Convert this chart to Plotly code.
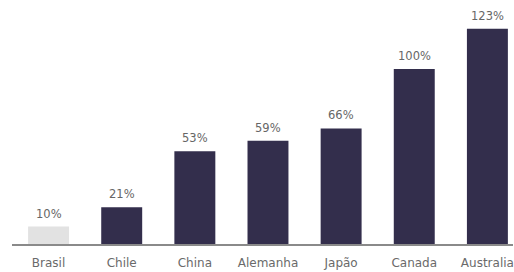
import plotly.graph_objects as go

categories = ["Brasil", "Chile", "China", "Alemanha", "Japão", "Canada", "Australia"]
values = [10, 21, 53, 59, 66, 100, 123]
labels = ["10%", "21%", "53%", "59%", "66%", "100%", "123%"]
colors = ["#e2e2e2"] + ["#332e4c"] * 6

fig = go.Figure()
fig.add_trace(go.Bar(
    x=categories, y=values, marker=dict(color=colors, line=dict(width=0)),
    width=0.56, showlegend=False,
))
for c, v, t in zip(categories, values, labels):
    fig.add_annotation(x=c, y=v, text=t, showarrow=False, yanchor="bottom", yshift=4,
                       font=dict(family="DejaVu Sans", size=11.5, color="#666666"))

fig.update_layout(
    width=514, height=272,
    margin=dict(l=12, r=1, t=0, b=28),
    paper_bgcolor="white", plot_bgcolor="white",
    font=dict(family="DejaVu Sans", size=12, color="#6a6a6a"),
    xaxis=dict(range=[-0.5, 6.35], showline=True, linecolor="#8a8a8a", linewidth=1.5,
               showgrid=False, ticks="", ticklabelstandoff=7, tickfont=dict(size=12, color="#6a6a6a")),
    yaxis=dict(range=[0, 139.4], visible=False, showgrid=False, zeroline=False),
)
fig.write_html("out.html", config={"displayModeBar": False},
               post_script="document.body.style.margin='0';document.body.style.overflow='hidden';")
